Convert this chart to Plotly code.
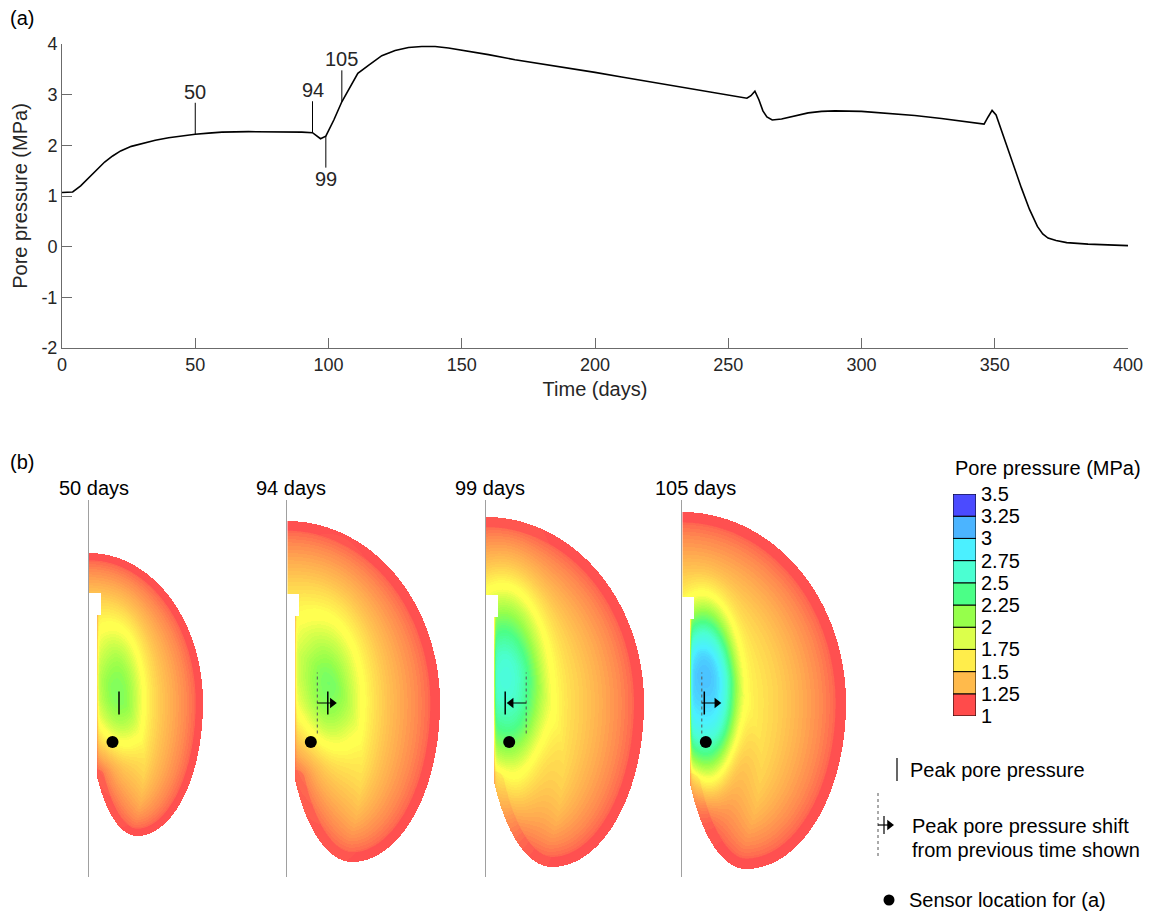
import numpy as np
import plotly.graph_objects as go

W, H = 1153, 916
FONT = "Liberation Sans, Arial, Helvetica, sans-serif"
TXT = "#262626"
AXC = "#6b6b6b"

# ---------------- (a) sensor time series ----------------
TIME_DAYS = [0, 4, 7, 10, 13, 16, 19, 22, 26, 30, 35, 40, 45, 50, 55, 60, 70, 80, 90, 94,
             95.5, 97, 99, 102, 105, 108, 111, 115, 120, 125, 130, 135, 140, 145, 150, 160,
             170, 180, 190, 200, 210, 220, 230, 240, 250, 257, 258.5, 260, 261.5, 263, 264.5,
             266.5, 270, 275, 280, 285, 290, 300, 310, 320, 330, 340, 346, 347.5, 349, 350.5,
             352, 354, 357, 360, 363, 366, 368, 370, 373, 377, 385, 395, 400]
PORE_PRESSURE_MPA = [1.07, 1.08, 1.2, 1.36, 1.53, 1.67, 1.79, 1.89, 1.98, 2.04, 2.10, 2.15, 2.19, 2.22, 2.24, 2.26, 2.27, 2.27, 2.26, 2.25,
                     2.18, 2.13, 2.18, 2.5, 2.86, 3.15, 3.42, 3.58, 3.77, 3.87, 3.93, 3.95, 3.95, 3.92, 3.88, 3.79,
                     3.69, 3.61, 3.52, 3.44, 3.35, 3.26, 3.17, 3.08, 2.99, 2.93, 2.98, 3.07, 2.9, 2.68, 2.56,
                     2.50, 2.52, 2.58, 2.64, 2.67, 2.68, 2.67, 2.63, 2.59, 2.53, 2.47, 2.42, 2.56, 2.69, 2.6,
                     2.37, 2.05, 1.58, 1.16, 0.74, 0.4, 0.25, 0.17, 0.12, 0.08, 0.05, 0.025, 0.02]
ANNOT_DAYS = [50, 94, 99, 105]
ANNOT_DIR = [1, 1, -1, 1]          # label above (+1) or below (-1) the curve
Y_TICKS = [-2, -1, 0, 1, 2, 3, 4]
Y_TICK_TEXT = ["-2", "-1", "0", "1", "2", "3", "4"]

# ---------------- (b) snapshots ----------------
SNAP_LABELS = ["50 days", "94 days", "99 days", "105 days"]
# outer boundary of the pressurised zone (model units)
HALF_WIDTH = [11.4, 15.3, 15.8, 16.4]
TOP_EXTENT = [15.0, 18.2, 18.6, 19.1]
BOTTOM_EXTENT = [13.3, 15.9, 16.4, 16.6]
BOTTOM_APEX_X = [4.8, 6.5, 6.6, 6.4]
NOTCH_TOP_Y = [11.0, 10.9, 10.8, 10.6]
GAP = 0.8
NOTCH_W, NOTCH_H = 1.25, 2.2
# pressure core
PEAK_PRESSURE = [2.2, 2.2, 2.6, 3.0]
PEAK_X = [3.0, 4.05, 1.95, 2.2]
PEAK_Y = [0.5, 0.3, 0.0, 0.3]
CORE_RADIUS = [2.4, 3.2, 3.5, 3.1]
CORE_SHARPNESS = [2.3, 1.9, 2.4, 3.2]
CORE_ELONGATION = [2.8, 2.3, 2.9, 2.8]
# background pressure vs distance from the outer boundary (reference size 16.4)
BASE_DIST = [0, 1.0, 1.1, 2.5, 4.5, 6.5, 8.5, 11.0, 14.0, 40.0]
BASE_P = [1.0, 1.0, 1.08, 1.2, 1.35, 1.5, 1.62, 1.72, 1.78, 1.8]
REF_WIDTH = 16.4
SENSOR_X, SENSOR_Y = 2.35, -3.9
PROFILE_Y = 0.0

# colour bar
CB_LEVELS = [1, 1.25, 1.5, 1.75, 2, 2.25, 2.5, 2.75, 3, 3.25, 3.5]
CB_LABELS = ["1", "1.25", "1.5", "1.75", "2", "2.25", "2.5", "2.75", "3", "3.25", "3.5"]
CB_COLORS = ["#FF4B4B", "#FFBA4B", "#FFED4B", "#DCFF4B", "#96FF4B",
             "#4BFF87", "#4BFFD2", "#4BF0FF", "#4BB4FF", "#4B4BFF"]
FIELD_CMAP_P = [1.0, 1.08, 1.2, 1.35, 1.5, 1.62, 1.74, 1.8, 1.9, 2.125, 2.375, 2.625, 2.875,
                3.125, 3.375, 3.5]
FIELD_CMAP_C = ["#FF5050", "#FF6650", "#FF8A50", "#FFAE50", "#FFCC50", "#FFE650", "#FFFF50", "#FFFF50",
                "#DCFF4B", "#96FF4B", "#4BFF87", "#4BFFD2", "#4BF0FF", "#4BB4FF", "#4B5AFF", "#4B4BFF"]

fig = go.Figure()

# ---- panel (a) ----
fig.add_trace(go.Scatter(x=TIME_DAYS, y=PORE_PRESSURE_MPA, mode="lines",
                         line=dict(color="black", width=1.6), xaxis="x", yaxis="y",
                         showlegend=False, hoverinfo="skip"))
shapes = []
annotations = []
for day, dr in zip(ANNOT_DAYS, ANNOT_DIR):
    p = float(np.interp(day, TIME_DAYS, PORE_PRESSURE_MPA))
    end = p + dr * 0.62
    shapes.append(dict(type="line", xref="x", yref="y", x0=day, x1=day, y0=p, y1=end,
                       line=dict(color="black", width=1)))
    annotations.append(dict(x=day, y=end, xref="x", yref="y", text=str(day), showarrow=False,
                            yanchor="bottom" if dr > 0 else "top", yshift=-2 if dr > 0 else 2,
                            font=dict(size=20, color=TXT)))

# ---- panel (b) ----
PANEL_AXIS_PX = [89, 287.3, 485.7, 682.3]
TITLE_CX = [94, 291, 490, 695.5]
X_SPAN = 18.0
Y_RANGE = [-17.4, 20.3]
YDOM = [1 - 877 / H, 1 - 500 / H]

fcs = [[(v - 1) / 2.5, c] for v, c in zip(FIELD_CMAP_P, FIELD_CMAP_C)]


def boundary_points(A, Bt, Bb, c):
    th = np.linspace(0, np.pi / 2, 300)
    up = np.c_[A * np.cos(th), Bt * np.sin(th)]
    ph = np.linspace(0, np.pi, 700)
    rx = np.where(np.cos(ph) >= 0, A - c, c)
    lo = np.c_[c + rx * np.cos(ph), -Bb * np.sin(ph)]
    lo = lo[lo[:, 0] >= GAP]
    return np.vstack([up, lo])


def min_dist(pts, bpts):
    out = np.empty(len(pts))
    for s in range(0, len(pts), 3000):
        q = pts[s:s + 3000]
        out[s:s + 3000] = np.sqrt(((q[:, None, :] - bpts[None, :, :]) ** 2).sum(-1)).min(1)
    return out


for i in range(4):
    A, Bt, Bb, c = HALF_WIDTH[i], TOP_EXTENT[i], BOTTOM_EXTENT[i], BOTTOM_APEX_X[i]
    xs = np.arange(0.05, A + 0.1, 0.1)
    ys = np.arange(-Bb - 0.05, Bt + 0.1, 0.1)
    X, Y = np.meshgrid(xs, ys)
    rx_lo = np.where(X >= c, A - c, c)
    inside = np.where(Y >= 0, (X / A) ** 2 + (Y / Bt) ** 2 <= 1,
                      ((X - c) / rx_lo) ** 2 + (Y / Bb) ** 2 <= 1)
    ny = NOTCH_TOP_Y[i]
    inside &= ~((X < GAP) & (Y < ny))
    inside &= ~((X < NOTCH_W) & (Y < ny) & (Y > ny - NOTCH_H))
    bpts = boundary_points(A, Bt, Bb, c)
    pts = np.c_[X[inside], Y[inside]]
    d = min_dist(pts, bpts)
    scale = REF_WIDTH / A
    base = np.interp(d * scale, BASE_DIST, BASE_P)
    dc = min_dist(np.array([[PEAK_X[i], PEAK_Y[i]]]), bpts)[0]
    base_c = np.interp(dc * scale, BASE_DIST, BASE_P)
    v = np.sqrt((pts[:, 0] - PEAK_X[i]) ** 2 + ((pts[:, 1] - PEAK_Y[i]) / CORE_ELONGATION[i]) ** 2)
    h = np.exp(-(v / CORE_RADIUS[i]) ** CORE_SHARPNESS[i])
    p = base + (PEAK_PRESSURE[i] - base_c) * h
    edge = (pts[:, 1] < ny)
    f = 1 - 0.7 * np.exp(-(pts[:, 0] - GAP) / 0.08)
    p = np.where(edge, 1 + (p - 1) * f, p)
    Z = np.full(X.shape, np.nan)
    Z[inside] = np.round(p / 0.03) * 0.03
    ax = str(i + 2)
    fig.add_trace(go.Heatmap(x=xs, y=ys, z=Z, zmin=1, zmax=3.5, colorscale=fcs, showscale=False,
                             zsmooth=False, hoverinfo="skip", xaxis="x" + ax, yaxis="y" + ax))
    # peak marker
    fig.add_trace(go.Scatter(x=[PEAK_X[i], PEAK_X[i]], y=[PROFILE_Y - 1.15, PROFILE_Y + 1.15], mode="lines",
                             line=dict(color="black", width=1.5), xaxis="x" + ax, yaxis="y" + ax,
                             showlegend=False, hoverinfo="skip"))
    if i > 0:
        prev = PEAK_X[i - 1]
        dr = np.sign(PEAK_X[i] - prev)
        fig.add_trace(go.Scatter(x=[prev, prev], y=[PROFILE_Y - 3.05, PROFILE_Y + 3.05], mode="lines",
                                 line=dict(color="#555555", width=1, dash="dot"), xaxis="x" + ax,
                                 yaxis="y" + ax, showlegend=False, hoverinfo="skip"))
        fig.add_trace(go.Scatter(x=[prev, prev + dr * 1.5], y=[PROFILE_Y, PROFILE_Y], mode="lines",
                                 line=dict(color="black", width=1.2), xaxis="x" + ax, yaxis="y" + ax,
                                 showlegend=False, hoverinfo="skip"))
        fig.add_trace(go.Scatter(x=[prev + dr * 1.5], y=[PROFILE_Y], mode="markers",
                                 marker=dict(symbol="triangle-right" if dr > 0 else "triangle-left",
                                             size=9, color="black"),
                                 xaxis="x" + ax, yaxis="y" + ax, showlegend=False, hoverinfo="skip"))
    fig.add_trace(go.Scatter(x=[SENSOR_X], y=[SENSOR_Y], mode="markers",
                             marker=dict(size=12, color="black"), xaxis="x" + ax, yaxis="y" + ax,
                             showlegend=False, hoverinfo="skip"))
    annotations.append(dict(x=TITLE_CX[i] / W, y=1 - 488 / H, xref="paper", yref="paper",
                            text=SNAP_LABELS[i], showarrow=False, xanchor="center", yanchor="middle",
                            font=dict(size=20, color="black")))

# colour bar
fig.add_trace(go.Bar(x=[0] * 10, y=[0.25] * 10, base=CB_LEVELS[:-1], width=1,
                     marker=dict(color=CB_COLORS, line=dict(color="black", width=1)),
                     xaxis="x6", yaxis="y6", showlegend=False, hoverinfo="skip"))

# legend glyphs (pixel overlay)
OV = dict(xaxis="x7", yaxis="y7", showlegend=False, hoverinfo="skip")
fig.add_trace(go.Scatter(x=[897, 897], y=[758, 781], mode="lines", line=dict(color="black", width=1.2), **OV))
fig.add_trace(go.Scatter(x=[878, 878], y=[793, 856], mode="lines",
                         line=dict(color="#555555", width=1, dash="dot"), **OV))
fig.add_trace(go.Scatter(x=[878, 888], y=[825, 825], mode="lines", line=dict(color="black", width=1.2), **OV))
fig.add_trace(go.Scatter(x=[884, 884], y=[816, 834], mode="lines", line=dict(color="black", width=1.2), **OV))
fig.add_trace(go.Scatter(x=[889.5], y=[825], mode="markers",
                         marker=dict(symbol="triangle-right", size=9, color="black"), **OV))
fig.add_trace(go.Scatter(x=[889], y=[900], mode="markers", marker=dict(size=11, color="black"), **OV))

for txt, xx, yy in [("Peak pore pressure", 908, 770), ("Peak pore pressure shift", 910, 826),
                    ("from previous time shown", 910, 850), ("Sensor location for (a)", 907, 900),
                    ("(a)", 8, 18), ("(b)", 8, 462)]:
    annotations.append(dict(x=xx / W, y=1 - yy / H, xref="paper", yref="paper", text=txt,
                            showarrow=False, xanchor="left", yanchor="middle",
                            font=dict(size=20, color="black")))
annotations.append(dict(x=1048 / W, y=1 - 468 / H, xref="paper", yref="paper",
                        text="Pore pressure (MPa)", showarrow=False, xanchor="center",
                        yanchor="middle", font=dict(size=20, color="black")))

layout = dict(
    width=W, height=H, margin=dict(l=0, r=0, t=0, b=0, autoexpand=False),
    paper_bgcolor="white", plot_bgcolor="rgba(0,0,0,0)",
    font=dict(family=FONT, color=TXT),
    showlegend=False, shapes=shapes, annotations=annotations, barmode="overlay",
    xaxis=dict(domain=[62 / W, 1128 / W], range=[0, 400], tickvals=list(range(0, 401, 50)),
               ticks="inside", ticklen=10, tickcolor=AXC, showline=True, linecolor=AXC,
               showgrid=False, zeroline=False, tickfont=dict(size=18, color=TXT),
               title=dict(text="Time (days)", font=dict(size=20, color=TXT), standoff=8),
               anchor="y", automargin=False),
    yaxis=dict(domain=[1 - 348 / H, 1 - 44 / H], range=[-2, 4], tickvals=Y_TICKS, ticktext=Y_TICK_TEXT,
               ticks="inside", ticklen=10, tickcolor=AXC, showline=True, linecolor=AXC,
               showgrid=False, zeroline=False, tickfont=dict(size=18, color=TXT),
               title=dict(text="Pore pressure (MPa)", font=dict(size=20, color=TXT), standoff=8),
               anchor="x", automargin=False),
)
for i in range(4):
    n = str(i + 2)
    x0 = PANEL_AXIS_PX[i]
    layout["xaxis" + n] = dict(domain=[x0 / W, (x0 + X_SPAN * 10) / W], range=[0, X_SPAN],
                               visible=False, anchor="y" + n, fixedrange=True, automargin=False)
    layout["yaxis" + n] = dict(domain=YDOM, range=Y_RANGE, showline=True, linecolor="#a0a0a0",
                               linewidth=1, showticklabels=False, ticks="", showgrid=False,
                               zeroline=False, anchor="x" + n, fixedrange=True, automargin=False)
layout["xaxis6"] = dict(domain=[953 / W, 976 / W], range=[-0.5, 0.5], visible=False, anchor="y6",
                        automargin=False)
layout["yaxis6"] = dict(domain=[1 - 716 / H, 1 - 494 / H], range=[1, 3.5], side="right",
                        tickvals=CB_LEVELS, ticktext=CB_LABELS, ticks="", showline=False,
                        showgrid=False, zeroline=False, anchor="x6", ticklabelstandoff=4,
                        tickfont=dict(size=20, color="black"), automargin=False)
layout["xaxis7"] = dict(domain=[0, 1], range=[0, W], visible=False, anchor="y7", automargin=False)
layout["yaxis7"] = dict(domain=[0, 1], range=[H, 0], visible=False, anchor="x7", automargin=False)
fig.update_layout(**layout)
fig.write_html("out.html")
